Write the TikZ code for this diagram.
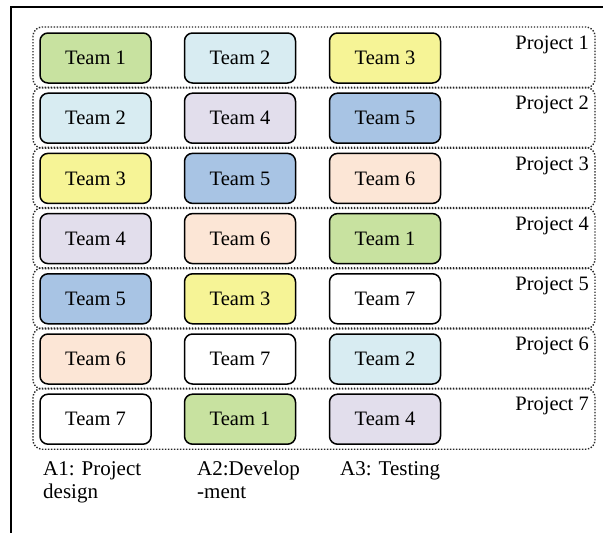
\documentclass[tikz,border=0pt]{standalone}
\usepackage{fontspec}
\setmainfont{Liberation Serif}
\definecolor{tA}{RGB}{200,226,160}
\definecolor{tB}{RGB}{216,236,242}
\definecolor{tC}{RGB}{246,244,150}
\definecolor{tD}{RGB}{226,222,236}
\definecolor{tE}{RGB}{168,196,228}
\definecolor{tF}{RGB}{252,230,214}
\definecolor{tG}{RGB}{255,255,255}
\begin{document}
\begin{tikzpicture}[x=1pt,y=-1pt,
  teambox/.style={draw=black,line width=1.5pt,rounded corners=8pt,minimum width=111pt,minimum height=50pt,inner sep=0pt,font=\fontsize{20.5}{22}\selectfont},
  projframe/.style={draw=black!85,dash pattern=on 1.4pt off 1.6pt,line width=1.4pt,rounded corners=9pt},
  projlabel/.style={anchor=east,inner sep=0pt,font=\fontsize{20.5}{22}\selectfont},
  axlabel/.style={anchor=north west,inner sep=0pt,align=left,font=\fontsize{21}{23}\selectfont}]
\useasboundingbox (0,0) rectangle (603,533);
\draw[line width=1.8pt] (11,533) -- (11,7) -- (603,7);
\foreach \i/\a/\b/\c in {1/1/2/3,2/2/4/5,3/3/5/6,4/4/6/1,5/5/3/7,6/6/7/2,7/7/1/4}{
  \pgfmathsetmacro{\rtop}{27+60.2*(\i-1)}
  \pgfmathsetmacro{\rbot}{\rtop+61}
  \pgfmathsetmacro{\cy}{\rtop+31}
  \pgfmathsetmacro{\ly}{\rtop+18}
  \draw[projframe] (33,\rtop) rectangle (595,\rbot);
  \node[projlabel] (l\i) at (589,\ly) {Project \i};
  \foreach \col/\tm/\xx in {1/\a/95.5,2/\b/240,3/\c/385}{
    \pgfmathparse{{"tA","tB","tC","tD","tE","tF","tG"}[\tm-1]}
    \edef\fc{\pgfmathresult}
    \node[teambox,fill=\fc] (t\i\col) at (\xx,\cy) {Team \tm};
  }
}
\node[axlabel] (a1) at (43,461) {A1: Project\\design};
\node[axlabel] (a2) at (197,461) {A2:Develop\\-ment};
\node[axlabel] (a3) at (340,461) {A3: Testing};
\end{tikzpicture}
\end{document}
